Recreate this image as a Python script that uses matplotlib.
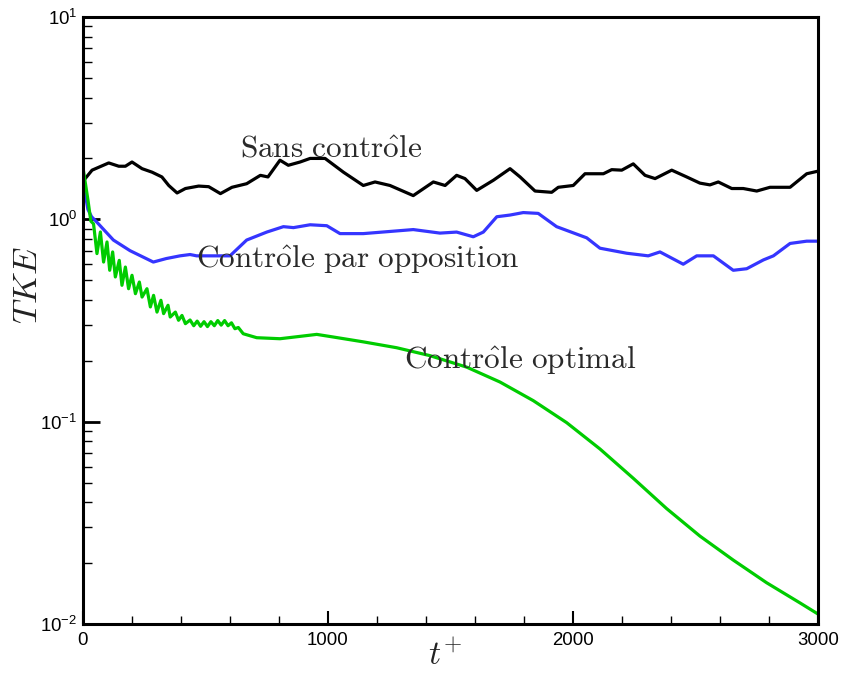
import numpy as np
import matplotlib
matplotlib.use("Agg")
import matplotlib.pyplot as plt
from matplotlib.ticker import FixedLocator, NullFormatter, FuncFormatter

plt.rcParams['mathtext.fontset'] = 'custom'
plt.rcParams['mathtext.rm'] = 'Liberation Sans'
plt.rcParams['mathtext.it'] = 'Liberation Sans:italic'
plt.rcParams['font.family'] = ['Liberation Sans', 'DejaVu Sans']

# ---- data ----
t_sans = [0, 9, 37, 105, 146, 173, 200, 241, 282, 322, 350, 384, 418, 472, 513, 561, 608,
          668, 724, 755, 804, 838, 886, 927, 988, 1063, 1144, 1192, 1253, 1348, 1430, 1478,
          1525, 1559, 1607, 1675, 1743, 1784, 1845, 1913, 1940, 2001, 2049, 2124, 2158,
          2199, 2246, 2294, 2335, 2403, 2464, 2518, 2559, 2593, 2648, 2695, 2750, 2804,
          2886, 2954, 3000]
v_sans = [1.60, 1.59, 1.75, 1.90, 1.83, 1.83, 1.92, 1.78, 1.71, 1.62, 1.47, 1.35, 1.42, 1.46,
          1.45, 1.34, 1.44, 1.50, 1.65, 1.62, 1.96, 1.85, 1.92, 2.00, 2.00, 1.71, 1.47, 1.53,
          1.47, 1.31, 1.53, 1.47, 1.65, 1.59, 1.39, 1.56, 1.78, 1.62, 1.38, 1.36, 1.44, 1.47,
          1.68, 1.68, 1.76, 1.75, 1.88, 1.65, 1.59, 1.75, 1.62, 1.51, 1.48, 1.53, 1.42, 1.42,
          1.38, 1.44, 1.44, 1.68, 1.73]

t_opp = [0, 9, 20, 35, 56, 124, 192, 287, 340, 396, 437, 464, 600, 668, 750, 818, 859, 927,
         995, 1049, 1144, 1348, 1457, 1525, 1593, 1634, 1689, 1743, 1797, 1858, 1933, 2056,
         2110, 2219, 2307, 2355, 2450, 2505, 2573, 2654, 2709, 2777, 2818, 2886, 2954, 3000]
v_opp = [1.62, 1.34, 1.12, 1.03, 0.97, 0.79, 0.70, 0.615, 0.64, 0.66, 0.67, 0.66, 0.66, 0.79,
         0.865, 0.92, 0.91, 0.94, 0.93, 0.85, 0.85, 0.89, 0.855, 0.865, 0.82, 0.865, 1.03,
         1.05, 1.08, 1.07, 0.92, 0.81, 0.72, 0.68, 0.66, 0.69, 0.60, 0.66, 0.66, 0.56, 0.57,
         0.63, 0.66, 0.76, 0.78, 0.78]

t_opt = [0, 20, 32, 43, 57, 71, 84, 98, 109, 121, 132, 148, 159, 173, 186, 200, 214, 230,
         241, 261, 275, 288, 302, 318, 329, 347, 356, 377, 390, 404, 418, 437, 452, 466,
         480, 494, 508, 522, 536, 550, 564, 578, 592, 606, 620, 634, 654, 709, 804, 886,
         954, 1022, 1144, 1280, 1416, 1500, 1566, 1702, 1838, 1974, 2110, 2246, 2382,
         2518, 2654, 2790, 2927, 3000]
v_opt = [1.80, 1.25, 0.98, 0.95, 0.677, 0.866, 0.615, 0.773, 0.560, 0.690, 0.519, 0.627,
         0.472, 0.581, 0.454, 0.529, 0.429, 0.490, 0.413, 0.454, 0.369, 0.421, 0.348, 0.398,
         0.342, 0.376, 0.329, 0.348, 0.317, 0.335, 0.305, 0.318, 0.298, 0.314, 0.296,
         0.312, 0.295, 0.312, 0.298, 0.316, 0.300, 0.316, 0.298, 0.308, 0.288, 0.292, 0.272,
         0.260, 0.257, 0.264, 0.270, 0.262, 0.248, 0.232, 0.212, 0.197, 0.186, 0.157, 0.127,
         0.0989, 0.0733, 0.0525, 0.0372, 0.0272, 0.0207, 0.0160, 0.0127, 0.0112]

labels = ["Sans contr\\hat{o}le", "Contr\\hat{o}le par opposition", "Contr\\hat{o}le optimal"]
label_t = [640, 460, 1310]
label_v = [2.22, 0.635, 0.200]

x_major = [0, 1000, 2000, 3000]
x_minor = [200, 400, 600, 800, 1200, 1400, 1600, 1800, 2200, 2400, 2600, 2800]
y_major = [1e-2, 1e-1, 1e0, 1e1]

# ---- figure ----
fig = plt.figure(figsize=(8.43, 6.75), dpi=100)
ax = fig.add_axes([83/843, 1-624/675, (818-83)/843, (624-17)/675])

ax.plot(t_sans, v_sans, color='black', lw=2.3, solid_joinstyle='round')
ax.plot(t_opp, v_opp, color='#3535ff', lw=2.3, solid_joinstyle='round')
ax.plot(t_opt, v_opt, color='#00cc00', lw=2.3, solid_joinstyle='round')

ax.set_yscale('log')
ax.set_xlim(0, 3000)
ax.set_ylim(1e-2, 1e1)

ax.xaxis.set_major_locator(FixedLocator(x_major))
ax.xaxis.set_minor_locator(FixedLocator(x_minor))
ax.yaxis.set_major_locator(FixedLocator(y_major))
minors = [m * 10.0**e for e in (-2, -1, 0) for m in range(2, 10)]
ax.yaxis.set_minor_locator(FixedLocator(minors))
ax.yaxis.set_minor_formatter(NullFormatter())
ax.xaxis.set_major_formatter(FuncFormatter(lambda v, p: f"{int(v)}"))
ax.yaxis.set_major_formatter(FuncFormatter(lambda v, p: r"$10^{%d}$" % int(round(np.log10(v)))))

ax.tick_params(which='major', direction='in', length=12, width=2, labelsize=13.4,
               top=False, right=False)
ax.tick_params(which='minor', direction='in', length=6.5, width=1, top=False, right=False)
ax.tick_params(axis='x', which='major', width=1.5, length=9.5, pad=6)
ax.tick_params(axis='x', which='minor', length=5.5)
ax.tick_params(axis='y', which='major', pad=4)

for s in ax.spines.values():
    s.set_linewidth(2.2)

for txt, tt, vv in zip(labels, label_t, label_v):
    ax.text(tt, vv, r"$\mathrm{" + txt.replace(" ", r"\ ") + "}$", fontsize=22.5,
            color='#2a2a2a', ha='left', va='center', math_fontfamily='cm')

fig.text(28/843, 1-285/675, r"$TKE$", fontsize=25, rotation=90, ha='center', va='center',
         math_fontfamily='cm', color='#222222')
fig.text(445/843, 1-656/675, r"$t^{+}$", fontsize=24, ha='center', va='center',
         math_fontfamily='cm', color='#222222')

fig.savefig("out.png", dpi=100)
